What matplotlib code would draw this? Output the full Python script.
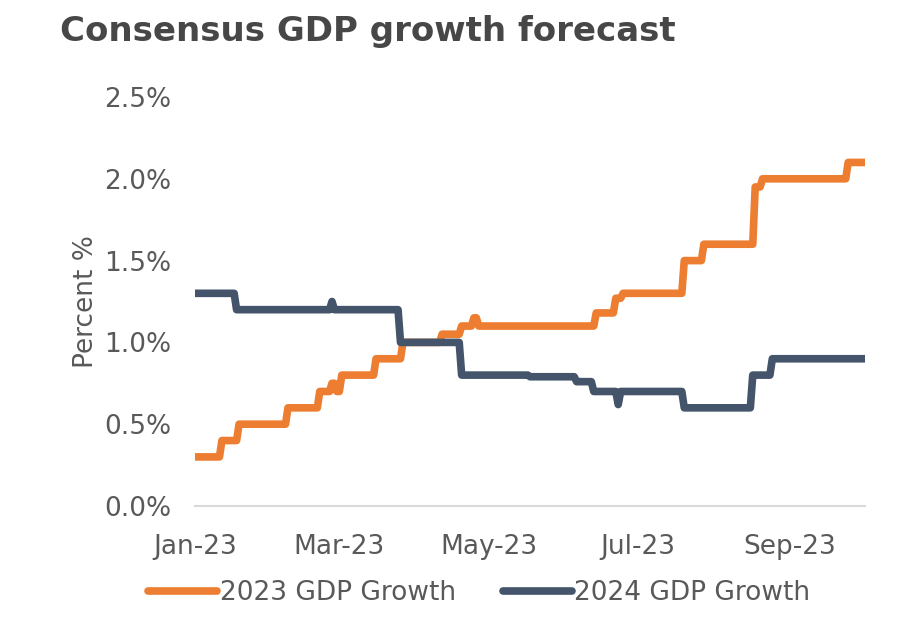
import pandas as pd
import matplotlib.pyplot as plt
import matplotlib.dates as mdates

# change points of the consensus forecasts (date, % value)
dates_2023 = ["2023-01-01", "2023-01-12", "2023-01-19", "2023-02-08", "2023-02-21",
              "2023-02-26", "2023-02-28", "2023-03-02", "2023-03-16", "2023-03-27",
              "2023-04-12", "2023-04-20", "2023-04-25", "2023-04-27", "2023-06-14",
              "2023-06-22", "2023-06-25", "2023-07-20", "2023-07-28", "2023-08-18",
              "2023-08-21", "2023-09-25"]
values_2023 = [0.30, 0.40, 0.50, 0.60, 0.70,
               0.75, 0.70, 0.80, 0.90, 1.00,
               1.05, 1.10, 1.15, 1.10, 1.18,
               1.27, 1.30, 1.50, 1.60, 1.95,
               2.00, 2.10]

dates_2024 = ["2023-01-01", "2023-01-18", "2023-02-26", "2023-02-27", "2023-03-26",
              "2023-04-20", "2023-05-18", "2023-06-06", "2023-06-13", "2023-06-23",
              "2023-06-24", "2023-07-20", "2023-08-17", "2023-08-25"]
values_2024 = [1.30, 1.20, 1.25, 1.20, 1.00,
               0.80, 0.79, 0.76, 0.70, 0.62,
               0.70, 0.60, 0.80, 0.90]

end_date = "2023-10-02"
tick_dates = ["2023-01-01", "2023-03-01", "2023-05-01", "2023-07-01", "2023-09-01"]
y_ticks = [0.0, 0.5, 1.0, 1.5, 2.0, 2.5]

orange = "#ED7D31"
navy = "#44546A"
grey = "#595959"

# expand change points to a daily series (value held until the next change)
days = pd.date_range("2023-01-01", end_date, freq="D")
s23 = pd.Series(values_2023, index=pd.to_datetime(dates_2023)).reindex(days).ffill()
s24 = pd.Series(values_2024, index=pd.to_datetime(dates_2024)).reindex(days).ffill()

plt.rcParams['font.family'] = ['DejaVu Sans']

fig = plt.figure(figsize=(9.22, 6.21), dpi=100)
ax = fig.add_axes([0.2115, 0.1852, 0.727, 0.6586])

ax.plot(s23.index, s23.values, color=orange, lw=5.5, solid_capstyle="round",
        solid_joinstyle="round", label="2023 GDP Growth")
ax.plot(s24.index, s24.values, color=navy, lw=5.5, solid_capstyle="round",
        solid_joinstyle="round", label="2024 GDP Growth")

ax.set_xlim(pd.Timestamp("2023-01-01"), pd.Timestamp(end_date))
ax.set_ylim(0, 2.5)
ax.set_yticks(y_ticks)
ax.set_yticklabels([f"{v:.1f}%" for v in y_ticks])
ax.set_xticks(pd.to_datetime(tick_dates))
ax.xaxis.set_major_formatter(mdates.DateFormatter("%b-%y"))

for side in ["top", "right", "left"]:
    ax.spines[side].set_visible(False)
ax.spines["bottom"].set_color("#D9D9D9")
ax.spines["bottom"].set_linewidth(1.5)
ax.tick_params(length=0, labelsize=19, labelcolor=grey)
ax.tick_params(axis="x", pad=20)
ax.tick_params(axis="y", pad=17)

ax.set_ylabel("Percent %", fontsize=19, color=grey, labelpad=4)

fig.text(0.065, 0.95, "Consensus GDP growth forecast", fontsize=24.5,
         fontweight="bold", color="#474747", va="center", ha="left")

fig.legend(loc="center", bbox_to_anchor=(0.52, 0.045), ncol=2, frameon=False,
           fontsize=19, labelcolor=grey, handlelength=2.6, handletextpad=0.1,
           columnspacing=1.8)

fig.savefig("out.png", dpi=100)
